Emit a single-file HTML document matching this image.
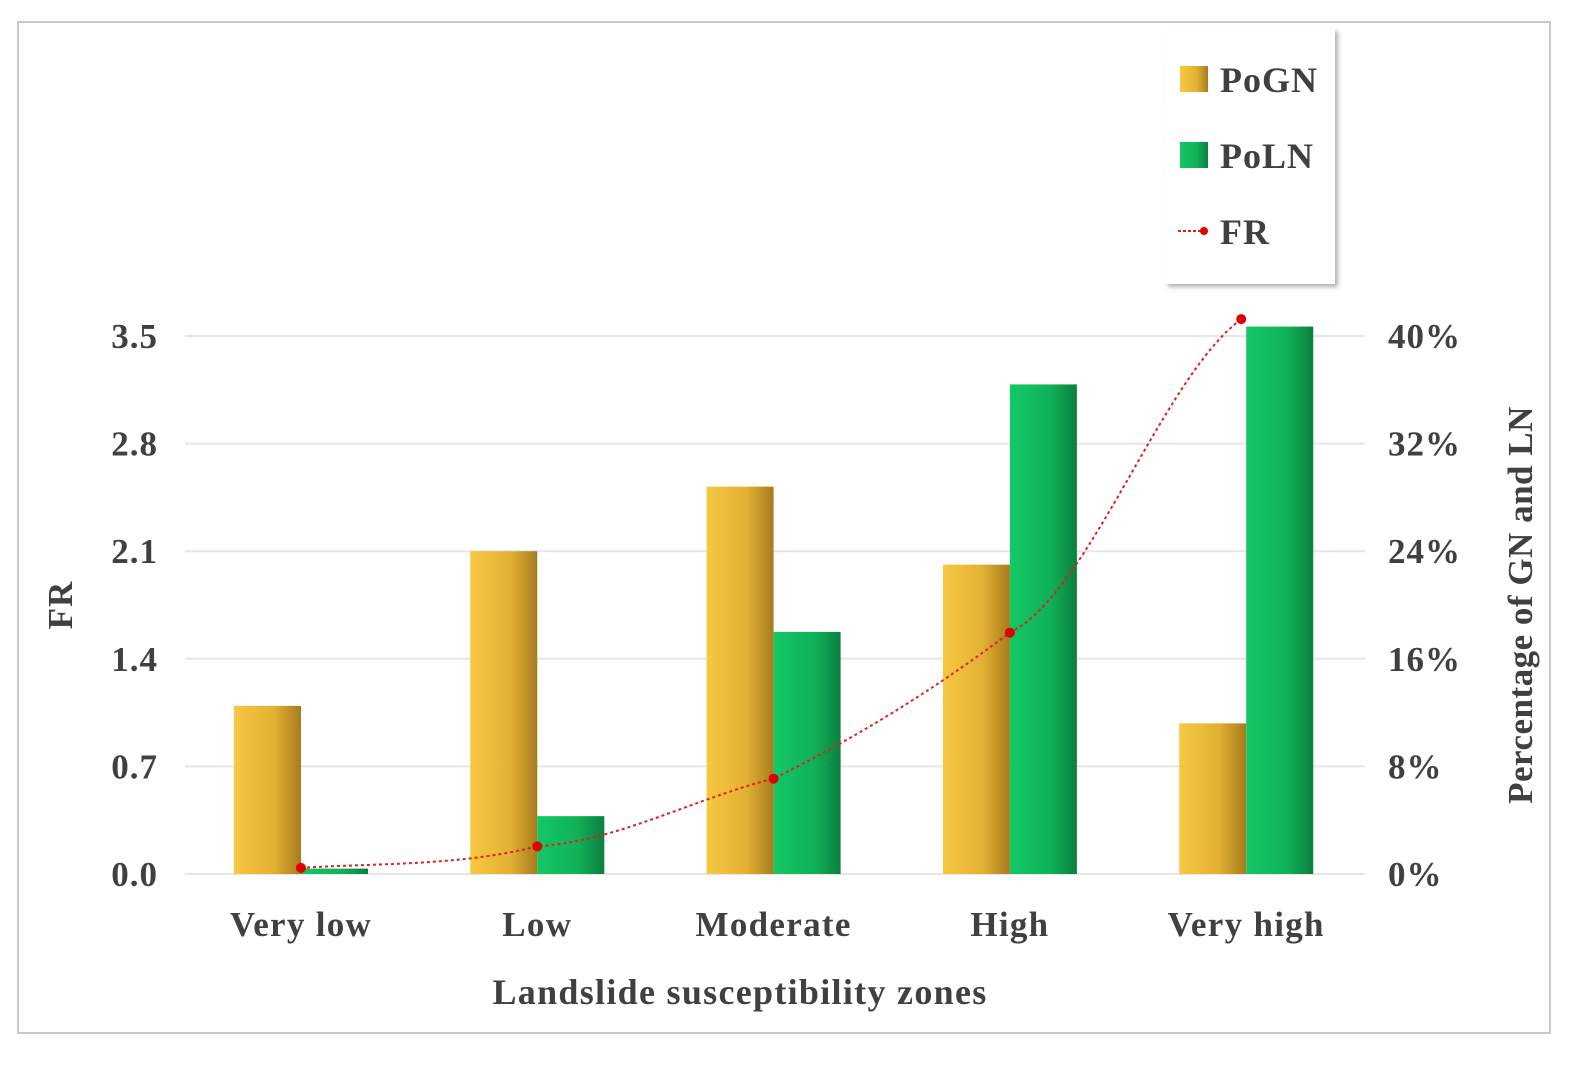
<!DOCTYPE html>
<html><head><meta charset="utf-8"><style>
html,body{margin:0;padding:0;background:#fff;}
svg text{font-family:"Liberation Serif",serif;font-weight:bold;fill:#404040;}
</style></head><body>
<svg id="c" width="1581" height="1063" xmlns="http://www.w3.org/2000/svg">
<defs>
<linearGradient id="gy" x1="0" x2="1" y1="0" y2="0"><stop offset="0" stop-color="#f7c842"/><stop offset="0.6" stop-color="#e2b033"/><stop offset="1" stop-color="#a67c1c"/></linearGradient>
<linearGradient id="gg" x1="0" x2="1" y1="0" y2="0"><stop offset="0" stop-color="#14c765"/><stop offset="0.6" stop-color="#10b259"/><stop offset="1" stop-color="#0b7f3e"/></linearGradient>
<filter id="sh" x="-10%" y="-10%" width="130%" height="130%"><feDropShadow dx="3" dy="3" stdDeviation="2" flood-color="#000" flood-opacity="0.3"/></filter>
</defs>
<rect x="18" y="22" width="1532" height="1011" fill="#fff" stroke="#c8c8c8" stroke-width="2"/>
<g id="grid"></g><g id="bars"></g><g id="line"></g><g id="axes"></g>
<text x="72" y="605" font-size="35" letter-spacing="1" transform="rotate(-90 72 605)" text-anchor="middle">FR</text>
<text x="1532" y="605" font-size="35" letter-spacing="0.5" transform="rotate(-90 1532 605)" text-anchor="middle">Percentage of GN and LN</text>
<text x="740" y="1004" font-size="36" letter-spacing="1.3" text-anchor="middle">Landslide susceptibility zones</text>
<g>
<rect x="1165" y="28" width="170" height="256" fill="#fff" filter="url(#sh)"/>
<rect x="1180" y="66" width="28" height="26" fill="url(#gy)"/>
<text x="1220" y="92" font-size="36" letter-spacing="1">PoGN</text>
<rect x="1180" y="142" width="28" height="26" fill="url(#gg)"/>
<text x="1220" y="168" font-size="36" letter-spacing="1">PoLN</text>
<line x1="1178" y1="231" x2="1206" y2="231" stroke="#e02020" stroke-width="2" stroke-dasharray="3,2"/>
<circle cx="1204" cy="231" r="4" fill="#e00000"/>
<text x="1220" y="244" font-size="36" letter-spacing="1">FR</text>
</g>
</svg>
<script>
const categories=["Very low","Low","Moderate","High","Very high"];
const pogn=[12.5,24.0,28.8,23.0,11.2];
const poln=[0.4,4.3,18.0,36.4,40.7];
const fr=[0.04,0.18,0.62,1.57,3.61];
const leftTicks=["0.0","0.7","1.4","2.1","2.8","3.5"];
const rightTicks=["0%","8%","16%","24%","32%","40%"];
const NS="http://www.w3.org/2000/svg";
const y0=874,y1=336,x0=185,x1=1365;
const yL=v=>y0-(v/3.5)*(y0-y1);
const yR=v=>y0-(v/40)*(y0-y1);
const xC=i=>301+i*236.3;
function mk(t,a,p){const e=document.createElementNS(NS,t);for(const k in a)e.setAttribute(k,a[k]);p.appendChild(e);return e;}
const G=document.getElementById('grid'),B=document.getElementById('bars'),L=document.getElementById('line'),A=document.getElementById('axes');
leftTicks.forEach((t,i)=>{const v=parseFloat(t),y=yL(v);
const g=mk('line',{x1:x0,x2:x1,y1:y,y2:y,stroke:'#e6e6e6','stroke-width':2},G);


const tx=mk('text',{x:158,y:y+12,'font-size':35,'letter-spacing':1,'text-anchor':'end'},A);tx.textContent=t;

});
rightTicks.forEach((t,i)=>{const y=yR(parseFloat(t));
const tx=mk('text',{x:1388,y:y+12,'font-size':35,'letter-spacing':1},A);tx.textContent=t;

});
categories.forEach((c,i)=>{const cx=xC(i);
const b1=mk('rect',{x:cx-67,y:yR(pogn[i]),width:67,height:y0-yR(pogn[i]),fill:'url(#gy)'},B);


const b2=mk('rect',{x:cx,y:yR(poln[i]),width:67,height:y0-yR(poln[i]),fill:'url(#gg)'},B);


const tx=mk('text',{x:cx,y:936,'font-size':35,'letter-spacing':1.3,'text-anchor':'middle'},A);tx.textContent=c;

});
let d='';
for(let i=0;i<fr.length;i++){const x=xC(i)-(i==fr.length-1?5:0),y=yL(fr[i]);
if(i==0)d+='M'+x+' '+y;else{const px=xC(i-1),py=yL(fr[i-1]);d+=' C'+(px+80)+' '+(py-(i>2?40:5))+' '+(x-80)+' '+(y+(i>2?60:20))+' '+x+' '+y;}}
const p=mk('path',{d:d,fill:'none',stroke:'#e02020','stroke-width':2,'stroke-dasharray':'3,3'},L);


fr.forEach((v,i)=>{const m=mk('circle',{cx:xC(i)-(i==fr.length-1?5:0),cy:yL(v),r:5,fill:'#e00000'},L);

});
</script>
</body></html>
